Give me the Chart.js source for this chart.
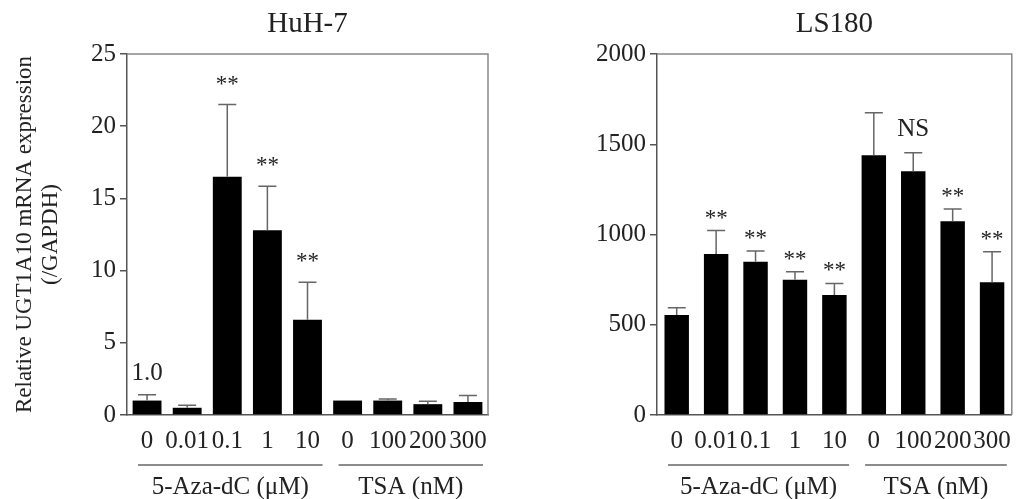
<!DOCTYPE html>
<html>
<head>
<meta charset="utf-8">
<script src="https://cdn.jsdelivr.net/npm/chart.js@4.4.1/dist/chart.umd.min.js"></script>
<style>
  html, body { margin: 0; padding: 0; background: #fff; }
  #wrap { position: relative; width: 1022px; height: 499px; }
  #wrap canvas { position: absolute; top: 0; }
</style>
</head>
<body>
<div id="wrap">
  <canvas id="huh7" width="511" height="499" style="left:0"></canvas>
  <canvas id="ls180" width="511" height="499" style="left:511px"></canvas>
</div>
<script>
// data
const categories = ['0', '0.01', '0.1', '1', '10', '0', '100', '200', '300'];
const groups = [
  { label: '5-Aza-dC (\u03bcM)', from: 0, to: 4 },
  { label: 'TSA (nM)', from: 5, to: 8 }
];

const huh7Values = [1.0, 0.5, 16.5, 12.8, 6.6, 1.0, 1.0, 0.75, 0.9];
const huh7Errors = [0.4, 0.17, 5.0, 3.05, 2.6, 0, 0.1, 0.2, 0.45];
const huh7Marks  = ['1.0', '', '**', '**', '**', '', '', '', ''];
const huh7Ticks  = [0, 5, 10, 15, 20, 25];

const ls180Values = [554, 892, 849, 750, 665, 1439, 1350, 1073, 735];
const ls180Errors = [40, 130, 60, 44, 64, 236, 103, 68, 170];
const ls180Marks  = ['', '**', '**', '**', '**', '', 'NS', '**', '**'];
const ls180Ticks  = [0, 500, 1000, 1500, 2000];

const SERIF = '"Liberation Serif", "Times New Roman", serif';
const TEXT = '#222';

// draws title, box frame, error bars, significance marks and group brackets
function figurePlugin(cfg) {
  return {
    id: 'figure',
    afterDraw(chart) {
      const { ctx, chartArea: a, scales: { x, y } } = chart;
      ctx.save();

      ctx.strokeStyle = '#888';
      ctx.lineWidth = 1.5;
      ctx.beginPath();
      ctx.moveTo(a.left, a.top);
      ctx.lineTo(a.right, a.top);
      ctx.lineTo(a.right, a.bottom);
      ctx.stroke();

      ctx.fillStyle = TEXT;
      ctx.textAlign = 'center';
      ctx.textBaseline = 'alphabetic';
      ctx.font = '29px ' + SERIF;
      ctx.fillText(cfg.title, (a.left + a.right) / 2, a.top - 22);

      const meta = chart.getDatasetMeta(0);
      meta.data.forEach((bar, i) => {
        const v = cfg.values[i], e = cfg.errors[i];
        const yTop = y.getPixelForValue(v + e);
        if (e > 0) {
          ctx.strokeStyle = '#666';
          ctx.lineWidth = 1.5;
          ctx.beginPath();
          ctx.moveTo(bar.x, y.getPixelForValue(v));
          ctx.lineTo(bar.x, yTop);
          ctx.moveTo(bar.x - 9, yTop);
          ctx.lineTo(bar.x + 9, yTop);
          ctx.stroke();
        }
        const m = cfg.marks[i];
        if (m) {
          ctx.fillStyle = TEXT;
          ctx.font = (m === '**' ? '23px ' : '25px ') + SERIF;
          const gap = m === '**' ? cfg.starGap : cfg.textGap;
          ctx.fillText(m, bar.x, yTop - gap);
        }
      });

      const half = (x.getPixelForValue(1) - x.getPixelForValue(0)) / 2;
      groups.forEach(g => {
        const x0 = x.getPixelForValue(g.from) - half + 11;
        const x1 = x.getPixelForValue(g.to) + half - 5;
        ctx.strokeStyle = '#666';
        ctx.lineWidth = 1.5;
        ctx.beginPath();
        ctx.moveTo(x0, a.bottom + 50);
        ctx.lineTo(x1, a.bottom + 50);
        ctx.stroke();
        ctx.fillStyle = TEXT;
        ctx.font = '25px ' + SERIF;
        ctx.fillText(g.label, (x0 + x1) / 2, a.bottom + 79);
      });

      ctx.restore();
    }
  };
}

function makeChart(id, cfg) {
  const tickFont = { family: SERIF, size: 25 };
  return new Chart(document.getElementById(id), {
    type: 'bar',
    data: {
      labels: categories,
      datasets: [{
        data: cfg.values,
        backgroundColor: '#000',
        borderWidth: 0,
        barPercentage: cfg.barPct,
        categoryPercentage: 1
      }]
    },
    options: {
      responsive: false,
      animation: false,
      layout: { padding: { left: 0, right: cfg.padRight, top: 54, bottom: 0 } },
      plugins: { legend: { display: false }, tooltip: { enabled: false } },
      scales: {
        x: {
          grid: { display: false, drawTicks: false },
          border: { display: true, color: '#555', width: 1.5 },
          ticks: { font: tickFont, color: TEXT, padding: 11, autoSkip: false, maxRotation: 0 },
          afterFit: s => { s.height = 84; }
        },
        y: {
          min: 0,
          max: cfg.ticks[cfg.ticks.length - 1],
          afterBuildTicks: s => { s.ticks = cfg.ticks.map(v => ({ value: v })); },
          grid: { drawOnChartArea: false, drawTicks: true, tickLength: 7, color: '#555', lineWidth: 1.5 },
          border: { display: true, color: '#555', width: 1.5 },
          ticks: { font: tickFont, color: TEXT, padding: 4, callback: v => String(v) },
          title: cfg.yTitle ? {
            display: true,
            text: cfg.yTitle,
            font: { family: SERIF, size: 23, lineHeight: 1.13 },
            color: TEXT,
            padding: { top: 12, bottom: 0 }
          } : { display: false },
          afterFit: s => { s.width = cfg.axisWidth; }
        }
      }
    },
    plugins: [figurePlugin(cfg)]
  });
}

makeChart('huh7', {
  title: 'HuH-7',
  values: huh7Values, errors: huh7Errors, marks: huh7Marks, ticks: huh7Ticks,
  yTitle: ['Relative UGT1A10 mRNA expression', '(/GAPDH)'],
  axisWidth: 127, padRight: 23, barPct: 0.72,
  starGap: 14, textGap: 15
});

makeChart('ls180', {
  title: 'LS180',
  values: ls180Values, errors: ls180Errors, marks: ls180Marks, ticks: ls180Ticks,
  yTitle: null,
  axisWidth: 146, padRight: 3, barPct: 0.62,
  starGap: 6, textGap: 17
});
</script>
</body>
</html>
